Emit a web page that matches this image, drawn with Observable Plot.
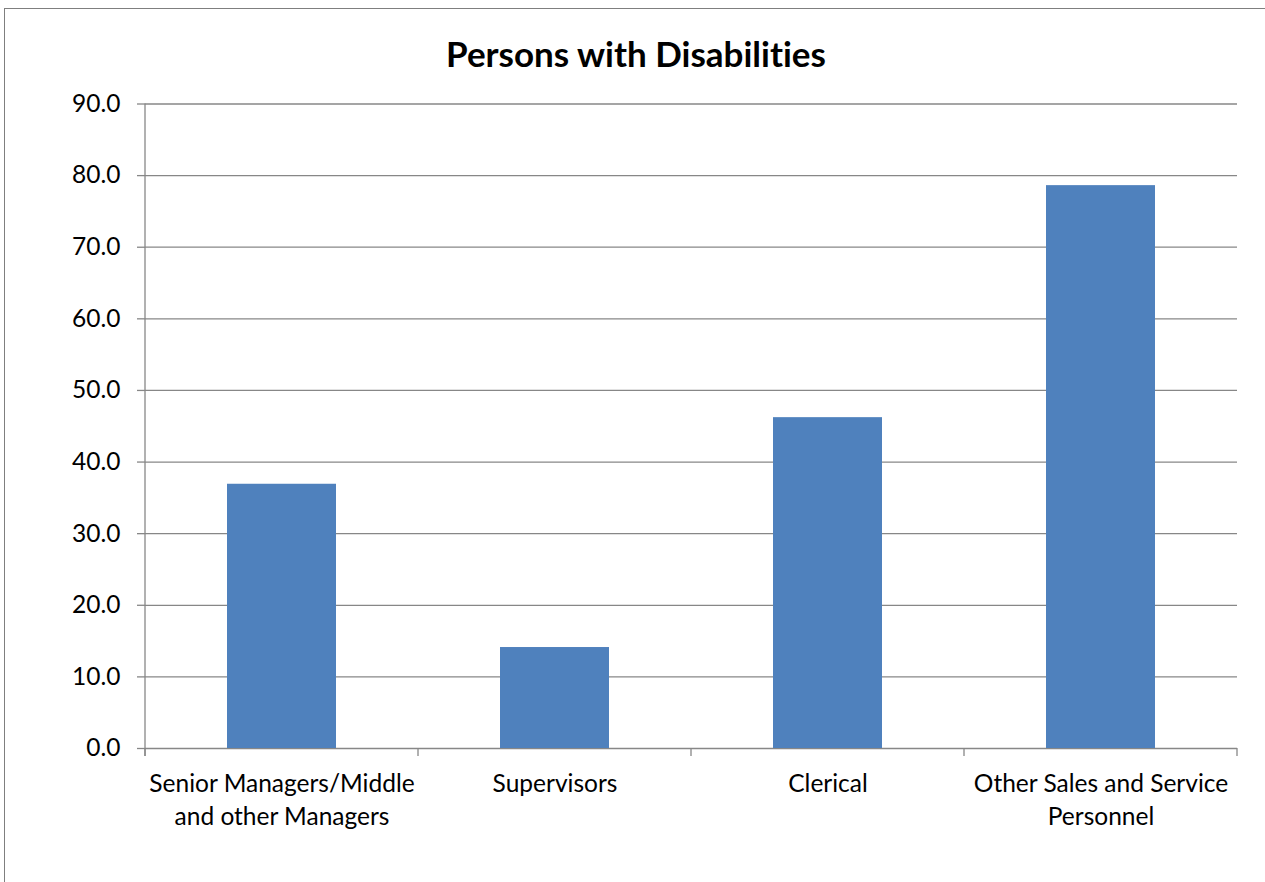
<!DOCTYPE html>
<html>
<head>
<meta charset="utf-8">
<script src="https://cdn.jsdelivr.net/npm/d3@7"></script>
<script src="https://cdn.jsdelivr.net/npm/@observablehq/plot@0.6"></script>
<style>
  html, body { margin: 0; padding: 0; background: #fff; }
  #wrap { position: relative; width: 1265px; height: 882px; overflow: hidden; background: #fff;
          font-variant-ligatures: none; font-feature-settings: "liga" 0, "clig" 0; }
  #border { position: absolute; left: 4px; top: 8px; width: 1300px; height: 900px; border: 1px solid #7f7f7f; }
  #title { position: absolute; left: 0; top: 33px; width: 1272px; text-align: center;
           font-family: Lato, sans-serif; font-weight: bold; font-size: 35px; line-height: 40px; color: #000; }
  #chart { position: absolute; left: 0; top: 80px; }
  #chart text { font-variant-ligatures: none; font-feature-settings: "liga" 0, "clig" 0; }
</style>
</head>
<body>
<div id="wrap">
  <div id="border"></div>
  <div id="title">Persons with Disabilities</div>
  <div id="chart"></div>
</div>
<script>
const categories = ["Senior Managers/Middle and other Managers", "Supervisors", "Clerical", "Other Sales and Service Personnel"];
const tickLabels = ["Senior Managers/Middle\nand other Managers", "Supervisors", "Clerical", "Other Sales and Service\nPersonnel"];
const values = [36.9, 14.1, 46.2, 78.6];
const yTicks = [0, 10, 20, 30, 40, 50, 60, 70, 80, 90];

const data = categories.map((c, i) => ({category: c, value: values[i]}));
const gridColor = "#878787";
const barColor = "#4F81BD";

function categoryTicks(index, scales, vals, dims) {
  const {marginLeft, marginRight, width} = dims;
  const n = categories.length;
  const step = (width - marginLeft - marginRight) / n;
  const y0 = scales.y(0);
  const yTop = scales.y(d3.max(yTicks));
  const g = d3.create("svg:g").attr("stroke", gridColor).attr("stroke-width", 1.3);
  g.append("line").attr("x1", marginLeft).attr("x2", marginLeft).attr("y1", yTop).attr("y2", y0 + 8);
  for (let i = 0; i <= n; i++) {
    const x = marginLeft + i * step;
    g.append("line").attr("x1", x).attr("x2", x).attr("y1", y0).attr("y2", y0 + 8);
  }
  return g.node();
}

const chart = Plot.plot({
  width: 1265,
  height: 802,
  marginLeft: 145,
  marginRight: 28,
  marginTop: 23.5,
  marginBottom: 134,
  style: {fontFamily: "Lato, sans-serif", fontSize: "24.5px", color: "#000", background: "transparent"},
  x: {domain: categories, paddingInner: 0.6, paddingOuter: 0.3, label: null},
  y: {domain: [0, 90], label: null},
  marks: [
    Plot.ruleY(yTicks, {stroke: gridColor, strokeWidth: 1.3}),
    Plot.barY(data, {x: "category", y: "value", fill: barColor}),
    categoryTicks,
    Plot.axisY({ticks: yTicks, tickFormat: d => d.toFixed(1), tickSize: 8, tickPadding: 17,
                stroke: gridColor, strokeWidth: 1.3, fontSize: 24.5, label: null}),
    Plot.axisX({tickSize: 0, tickPadding: 20, fontSize: 24.5, lineHeight: 1.35, label: null,
                tickFormat: d => tickLabels[categories.indexOf(d)]})
  ]
});
document.getElementById("chart").appendChild(chart);
</script>
</body>
</html>
